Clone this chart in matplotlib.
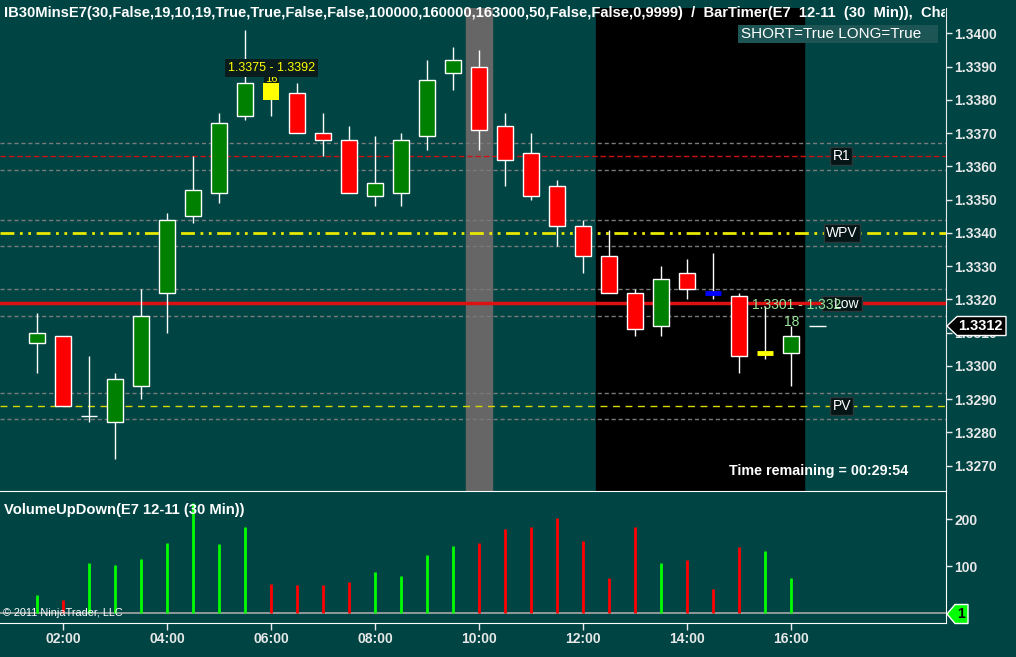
import numpy as np
import matplotlib
matplotlib.use("Agg")
import matplotlib.pyplot as plt
from matplotlib.patches import Rectangle, Polygon

plt.rcParams['font.family'] = ['Liberation Sans', 'DejaVu Sans']

# ---- data (30 min bars, E7 12-11) ----
times = ["01:30", "02:00", "02:30", "03:00", "03:30", "04:00", "04:30", "05:00",
         "05:30", "06:00", "06:30", "07:00", "07:30", "08:00", "08:30", "09:00",
         "09:30", "10:00", "10:30", "11:00", "11:30", "12:00", "12:30", "13:00",
         "13:30", "14:00", "14:30", "15:00", "15:30", "16:00"]
opens = [1.3307, 1.3309, 1.3285, 1.3283, 1.3294, 1.3322, 1.3345, 1.3352,
         1.3375, 1.3385, 1.3382, 1.3370, 1.3368, 1.3351, 1.3352, 1.3369,
         1.3388, 1.3390, 1.3372, 1.3364, 1.3354, 1.3342, 1.3333, 1.3322,
         1.3312, 1.3328, 1.3322, 1.3321, 1.3304, 1.3304]
highs = [1.3316, 1.3309, 1.3303, 1.3298, 1.3323, 1.3346, 1.3363, 1.3376,
         1.3401, 1.3392, 1.3385, 1.3376, 1.3372, 1.3369, 1.3370, 1.3392,
         1.3396, 1.3395, 1.3376, 1.3370, 1.3356, 1.3344, 1.3341, 1.3323,
         1.3330, 1.3332, 1.3334, 1.3322, 1.3318, 1.3312]
lows = [1.3298, 1.3288, 1.3283, 1.3272, 1.3290, 1.3310, 1.3343, 1.3349,
        1.3374, 1.3375, 1.3370, 1.3363, 1.3352, 1.3348, 1.3348, 1.3365,
        1.3383, 1.3365, 1.3354, 1.3350, 1.3336, 1.3328, 1.3322, 1.3309,
        1.3309, 1.3320, 1.3320, 1.3298, 1.3302, 1.3294]
closes = [1.3310, 1.3288, 1.3285, 1.3296, 1.3315, 1.3344, 1.3353, 1.3373,
          1.3385, 1.3380, 1.3370, 1.3368, 1.3352, 1.3355, 1.3368, 1.3386,
          1.3392, 1.3371, 1.3362, 1.3351, 1.3342, 1.3333, 1.3322, 1.3311,
          1.3326, 1.3323, 1.3322, 1.3303, 1.3304, 1.3309]
special_colors = {"06:00": "#ffff00", "14:30": "#0000ff", "15:30": "#ffff00"}

vol_up = [38, 0, 106, 103, 116, 150, 234, 148, 183, 0, 0, 0, 0, 87, 78, 124,
          143, 0, 0, 0, 0, 0, 0, 0, 106, 0, 0, 0, 133, 74]
vol_down = [0, 28, 0, 0, 0, 0, 0, 0, 0, 62, 59, 59, 66, 0, 0, 0,
            0, 150, 179, 183, 202, 154, 74, 183, 0, 114, 51, 141, 0, 0]

# key levels
r1_level = 1.3363
wpv_level = 1.3340
red_level = 1.3319
pv_level = 1.3288
band = 0.0004
last_price = 1.3312

price_ticks = [1.3270, 1.3280, 1.3290, 1.3300, 1.3310, 1.3320, 1.3330,
               1.3340, 1.3350, 1.3360, 1.3370, 1.3380, 1.3390, 1.3400]
hour_ticks = [2, 4, 6, 8, 10, 12, 14, 16]

BG = "#004444"
W, H = 1016, 657


def hrs(s):
    h, m = s.split(":")
    return int(h) + int(m) / 60.0


def fy(px):
    return 1 - px / H


x = np.array([hrs(t) for t in times])

fig = plt.figure(figsize=(W / 100, H / 100), dpi=100, facecolor=BG)
ax = fig.add_axes([0, fy(491), 946 / W, fy(8) - fy(491)])
axv = fig.add_axes([0, fy(622.5), 946 / W, fy(491) - fy(622.5)])

for a in (ax, axv):
    a.set_facecolor(BG)
    for s in a.spines.values():
        s.set_visible(False)
    a.set_xlim(0.783, 18.975)

# ---- price panel ----
ax.set_ylim(1.32624, 1.34076)
ax.axvspan(9.75, 10.25, color="#666666", zorder=0)
ax.axvspan(12.25, 16.25, color="#000000", zorder=0)

dash = (0, (3, 2))
for lvl in (r1_level, wpv_level, red_level, pv_level):
    ax.axhline(lvl + band, color="#7a7a7a", lw=1, ls=dash, zorder=1)
    ax.axhline(lvl - band, color="#7a7a7a", lw=1, ls=dash, zorder=1)
ax.axhline(r1_level, color="#cc1111", lw=1, ls=(0, (4, 2)), zorder=1)
ax.axhline(wpv_level, color="#e8e800", lw=2, ls=(0, (5, 2, 1, 2, 1, 2)), zorder=1)
ax.axhline(red_level, color="#dd1111", lw=2.5, zorder=1)
ax.axhline(pv_level, color="#d8d800", lw=1, ls=(0, (5, 4)), zorder=1)

bw = 0.31
for xi, t, o, h, l, c in zip(x, times, opens, highs, lows, closes):
    ax.vlines(xi, l, h, color="white", lw=1, zorder=3)
    if t in special_colors:
        top, bot = max(o, c), min(o, c)
        if top - bot < 0.00005:
            ax.hlines(o, xi - bw / 2, xi + bw / 2, color=special_colors[t], lw=3.5, zorder=4)
        else:
            ax.add_patch(Rectangle((xi - bw / 2, bot), bw, top - bot,
                                   facecolor=special_colors[t], edgecolor="none", zorder=4))
    elif abs(c - o) < 0.00005:
        ax.hlines(o, xi - bw / 2, xi + bw / 2, color="white", lw=1, zorder=4)
    else:
        col = "#008000" if c > o else "#ff0000"
        ax.add_patch(Rectangle((xi - bw / 2, min(o, c)), bw, abs(c - o),
                               facecolor=col, edgecolor="white", lw=1, zorder=4))

# labels on levels
box = dict(boxstyle="square,pad=0.15", facecolor="#051515", edgecolor="#2a3a3a", lw=1)
ax.text(16.96, r1_level, "R1", color="white", fontsize=10, ha="center", va="center", bbox=box, zorder=6)
ax.text(16.97, wpv_level, "WPV", color="white", fontsize=10, ha="center", va="center", bbox=box, zorder=6)
ax.text(16.97, pv_level, "PV", color="white", fontsize=10, ha="center", va="center", bbox=box, zorder=6)
ax.add_patch(Rectangle((16.59, 1.33165), 0.77, 0.00045, facecolor="#051515",
                       edgecolor="#2a3a3a", lw=1, zorder=6))
ax.text(17.06, 1.33186, "Low", color="white", fontsize=10, ha="center", va="center", zorder=6.5)
ax.text(15.24, 1.33184, "1.3301 - 1.332", color="#99e699", fontsize=10, ha="left", va="center", zorder=7)
ax.text(16.0, 1.33132, "18", color="#99e699", fontsize=10, ha="center", va="center", zorder=7)
ax.hlines(last_price, 16.34, 16.67, color="white", lw=1, zorder=5)
ax.text(6.0, 1.33896, "1.3375 - 1.3392", color="#ffff00", fontsize=9, ha="center", va="center",
        bbox=dict(boxstyle="square,pad=0.25", facecolor="#0a1c1c", edgecolor="none"), zorder=6)
ax.text(6.0, 1.33862, "16", color="#ffff00", fontsize=8, ha="center", va="center",
        bbox=dict(boxstyle="square,pad=0.1", facecolor="#0a1c1c", edgecolor="none"), zorder=3.5)

ax.yaxis.tick_right()
ax.set_yticks(price_ticks)
ax.set_yticklabels([f"{p:.4f}" for p in price_ticks])
ax.tick_params(axis="y", colors="#e8e8e8", direction="out", length=4, width=1, pad=2,
               labelsize=10)
for lb in ax.get_yticklabels():
    lb.set_fontweight("bold")
ax.set_xticks([])
ax.spines["right"].set_visible(True)
ax.spines["right"].set_color("#e8e8e8")

# ---- volume panel ----
axv.set_ylim(-20, 260)
axv.axhline(0, color="#a8a8a8", lw=1.2, zorder=1)
axv.vlines(x, 0, vol_up, color="#00ff00", lw=2, zorder=2)
axv.vlines(x, 0, vol_down, color="#ff0000", lw=2, zorder=2)
axv.yaxis.tick_right()
axv.set_yticks([100, 200])
axv.tick_params(axis="y", colors="#e8e8e8", direction="out", length=4, width=1, pad=2, labelsize=10)
axv.set_xticks(hour_ticks)
axv.set_xticklabels([f"{h:02d}:00" for h in hour_ticks])
axv.tick_params(axis="x", colors="#e8e8e8", direction="out", length=5, width=1, pad=2, labelsize=10)
for lb in axv.get_yticklabels() + axv.get_xticklabels():
    lb.set_fontweight("bold")
for s in ("top", "bottom", "right"):
    axv.spines[s].set_visible(True)
    axv.spines[s].set_color("white")
axv.text(0.004, 0.855, "VolumeUpDown(E7 12-11 (30 Min))", transform=axv.transAxes,
         color="white", fontsize=10.6, fontweight="bold", ha="left", va="center")
axv.text(0.003, 0.07, "\u00a9 2011 NinjaTrader, LLC", transform=axv.transAxes,
         color="white", fontsize=7.8, ha="left", va="center")

# ---- figure level texts and markers ----
title = fig.text(4 / W, fy(13), "IB30MinsE7(30,False,19,10,19,True,True,False,False,100000,160000,"
                 "163000,50,False,False,0,9999)  /  BarTimer(E7  12-11  (30  Min)),  Chart",
                 color="white", fontsize=10.65, fontweight="bold", ha="left", va="center")
clip = Rectangle((0, 0), 945 / W, 1, transform=fig.transFigure)
title.set_clip_path(clip)

fig.add_artist(Rectangle((738 / W, fy(43)), 200 / W, 18 / H, transform=fig.transFigure,
                         facecolor="#1d5454", edgecolor="none"))
fig.text(741 / W, fy(34), "SHORT=True LONG=True", color="white", fontsize=11, ha="left", va="center")
fig.text(729 / W, fy(471), "Time remaining = 00:29:54", color="white", fontsize=10.3,
         fontweight="bold", ha="left", va="center")

pts = [(947, 326), (957, 316.5), (1006, 316.5), (1006, 335.5), (957, 335.5)]
fig.add_artist(Polygon([(px / W, fy(py)) for px, py in pts], closed=True, transform=fig.transFigure,
                       facecolor="black", edgecolor="white", lw=1))
fig.text(980 / W, fy(326), f"{last_price:.4f}", color="white", fontsize=10.5, fontweight="bold",
         ha="center", va="center")

pts = [(947, 614), (955, 604.5), (968, 604.5), (968, 623.5), (955, 623.5)]
fig.add_artist(Polygon([(px / W, fy(py)) for px, py in pts], closed=True, transform=fig.transFigure,
                       facecolor="#00ff00", edgecolor="white", lw=1))
fig.text(961 / W, fy(614), "1", color="black", fontsize=10, fontweight="bold", ha="center", va="center")

fig.savefig("out.png", dpi=100, facecolor=BG)
